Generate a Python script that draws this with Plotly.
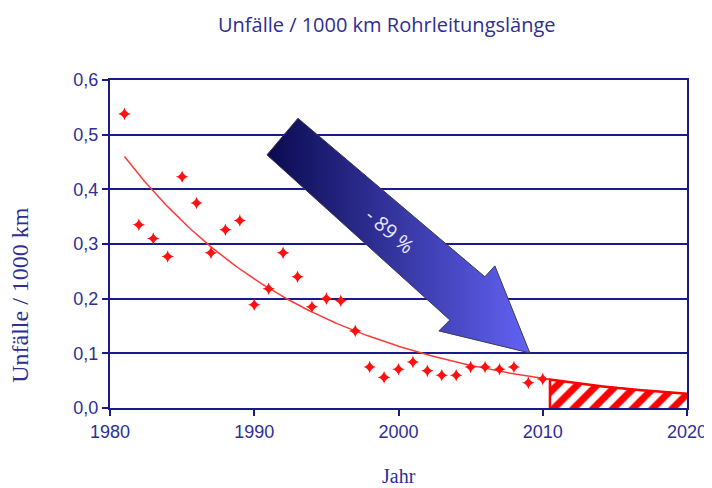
import numpy as np
import plotly.graph_objects as go

# ---- data ----
years = list(range(1981, 2011))
rates = [0.538, 0.335, 0.310, 0.277, 0.423, 0.375, 0.284, 0.326, 0.343, 0.189,
         0.218, 0.284, 0.240, 0.185, 0.200, 0.196, 0.141, 0.075, 0.056, 0.071,
         0.084, 0.068, 0.060, 0.060, 0.075, 0.075, 0.071, 0.075, 0.046, 0.053]
# exponential trend line
trend_years = [1981, 1985, 1990, 1995, 2000, 2005, 2010, 2015, 2020]
trend_values = [0.460, 0.342, 0.236, 0.163, 0.113, 0.078, 0.054, 0.037, 0.026]
forecast_start = 2010.5
forecast_end = 2020
x_ticks = [1980, 1990, 2000, 2010, 2020]
y_ticks = [0.0, 0.1, 0.2, 0.3, 0.4, 0.5, 0.6]
reduction_label = "- 89 %"


def trend(t):
    # log-linear reading between the read trend points (exponential curve)
    return np.exp(np.interp(np.asarray(t, dtype=float), trend_years, np.log(trend_values)))


navy = "#1a1a8a"
text_navy = "#2e2e94"

fig = go.Figure()

# trend line
t_line = np.linspace(trend_years[0], trend_years[-1], 300)
fig.add_trace(go.Scatter(x=t_line, y=trend(t_line), mode="lines",
                         line=dict(color="#ff3a3a", width=1.5), hoverinfo="skip",
                         showlegend=False))

# hatched forecast area
t_fc = np.linspace(forecast_start, forecast_end, 100)
fig.add_trace(go.Scatter(x=np.concatenate([[forecast_start], t_fc]),
                         y=np.concatenate([[0], trend(t_fc)]),
                         mode="lines", fill="tozeroy",
                         line=dict(color="#ff0000", width=2.5),
                         fillcolor="white",
                         fillpattern=dict(shape="/", fgcolor="#ff0000", bgcolor="white",
                                          fgopacity=1, fillmode="replace",
                                          size=14, solidity=0.5),
                         hoverinfo="skip", showlegend=False))

# data points
fig.add_trace(go.Scatter(x=years, y=rates, mode="markers",
                         marker=dict(symbol="star-diamond", size=9, color="#ff1010",
                                     line=dict(width=0)),
                         showlegend=False))

# gradient arrow (decoration)
arrow_x = [1993.03, 2005.99, 2006.68, 2009.11, 2002.80, 2003.56, 1990.88, 1993.03]
arrow_y = [0.530, 0.240, 0.260, 0.1006, 0.141, 0.161, 0.463, 0.530]
fig.add_trace(go.Scatter(x=arrow_x, y=arrow_y, mode="lines", fill="toself",
                         line=dict(color="#3c3c50", width=1),
                         fillgradient=dict(type="horizontal",
                                           colorscale=[[0, "#0a0a50"], [1, "#6262f4"]]),
                         hoverinfo="skip", showlegend=False))

fig.add_annotation(x=1999.4, y=0.325, text=reduction_label, showarrow=False,
                   textangle=41, font=dict(family="Open Sans", size=20, color="#e6e6ff"))

# the page places the figure 8 px from the window's top-left corner
fig.update_layout(
    width=704, height=480,
    margin=dict(l=102, r=25, t=72, b=80, autoexpand=False),
    paper_bgcolor="white", plot_bgcolor="white",
    separators=",.",
    title=dict(text="Unfälle / 1000 km Rohrleitungslänge", x=0.538, xanchor="center",
               y=0.965, yanchor="middle",
               font=dict(family="Open Sans", size=20, color=text_navy)),
    xaxis=dict(range=[1980, 2020], tickvals=x_ticks, tickformat="d",
               showgrid=False, zeroline=False, showline=True, mirror=True,
               linecolor=navy, linewidth=2, ticks="outside", ticklen=6,
               tickcolor=navy, tickwidth=2,
               tickfont=dict(family="Liberation Sans", size=18, color=text_navy)),
    yaxis=dict(range=[0, 0.6], tickvals=y_ticks, tickformat=".1f",
               showgrid=True, gridcolor=navy, gridwidth=2, zeroline=False,
               showline=True, mirror=True, linecolor=navy, linewidth=2,
               ticks="outside", ticklen=6, tickcolor=navy, tickwidth=2,
               tickfont=dict(family="Liberation Sans", size=18, color=text_navy)),
)

fig.add_annotation(xref="paper", yref="paper", x=-0.156, y=0.345, text="Unfälle / 1000 km",
                   textangle=-90, showarrow=False, xanchor="center", yanchor="middle",
                   font=dict(family="Liberation Serif", size=24, color=text_navy))
fig.add_annotation(xref="paper", yref="paper", x=0.5, y=-0.207, text="Jahr",
                   showarrow=False, xanchor="center", yanchor="middle",
                   font=dict(family="Liberation Serif", size=20, color=text_navy))

fig.write_html("out.html")
